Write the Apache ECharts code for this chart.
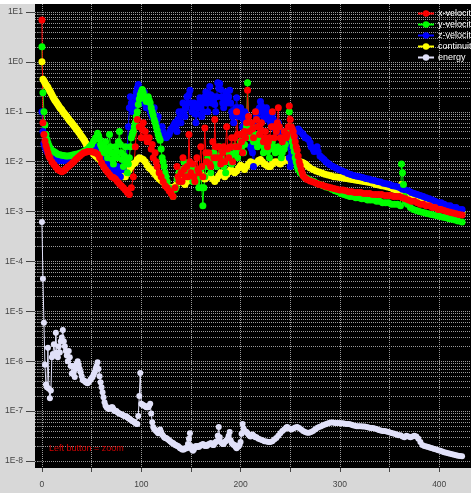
<!DOCTYPE html>
<html>
<head>
<meta charset="utf-8">
<script src="https://cdn.jsdelivr.net/npm/echarts@6/dist/echarts.min.js"></script>
<style>
  html, body { margin: 0; padding: 0; background: #d8d8d8; }
  #chart { width: 471px; height: 493px; }
</style>
</head>
<body>
<div id="chart"></div>
<script>
  // residuals, [iteration, value]
  var xVelocity = [[0,6.9],[1,0.06],[2,0.035],[3,0.026],[4,0.021],[5,0.018],[6,0.015],[7,0.013],[8,0.012],[10,0.010],[12,0.0088],[14,0.0078],[16,0.0070],[18,0.0066],[20,0.0063],[22,0.0066],[24,0.0072],[26,0.0078],[28,0.0085],[30,0.0092],[32,0.0100],[34,0.011],[36,0.012],[38,0.013],[40,0.014],[42,0.015],[44,0.0155],[46,0.016],[48,0.016],[50,0.016],[52,0.0155],[54,0.015],[56,0.014],[58,0.012],[60,0.0095],[62,0.008],[64,0.007],[66,0.0062],[68,0.0055],[70,0.005],[72,0.0048],[74,0.0045],[76,0.004],[78,0.0036],[80,0.0033],[82,0.003],[84,0.0027],[86,0.0024],[88,0.0022],[90,0.003],[92,0.005],[94,0.02],[96,0.07],[98,0.05],[100,0.03],[101,0.045],[102,0.06],[104,0.04],[105,0.03],[106,0.025],[108,0.03],[110,0.018],[111,0.022],[112,0.012],[114,0.015],[115,0.01],[116,0.008],[118,0.006],[120,0.005],[122,0.004],[124,0.0033],[126,0.003],[128,0.0026],[130,0.0023],[132,0.002],[134,0.003],[136,0.008],[137,0.005],[138,0.004],[140,0.006],[141,0.004],[142,0.012],[143,0.007],[144,0.005],[146,0.008],[147,0.005],[148,0.035],[149,0.01],[150,0.006],[152,0.009],[153,0.005],[154,0.004],[156,0.012],[157,0.007],[158,0.006],[160,0.02],[161,0.008],[162,0.005],[164,0.047],[165,0.015],[166,0.01],[168,0.015],[169,0.009],[170,0.008],[172,0.025],[173,0.012],[174,0.07],[175,0.02],[176,0.012],[178,0.02],[179,0.012],[180,0.009],[182,0.015],[183,0.02],[184,0.01],[186,0.05],[187,0.018],[188,0.012],[190,0.02],[191,0.03],[192,0.01],[194,0.03],[195,0.02],[196,0.1],[197,0.035],[198,0.02],[200,0.035],[201,0.025],[202,0.015],[204,0.04],[205,0.03],[206,0.06],[207,0.27],[208,0.08],[209,0.04],[211,0.06],[212,0.045],[213,0.03],[215,0.1],[216,0.07],[217,0.05],[219,0.035],[220,0.045],[221,0.06],[223,0.025],[224,0.03],[225,0.04],[227,0.02],[228,0.025],[229,0.03],[231,0.05],[232,0.1],[233,0.05],[234,0.03],[236,0.04],[237,0.06],[238,0.12],[239,0.05],[240,0.03],[242,0.025],[243,0.03],[244,0.04],[246,0.03],[247,0.035],[248,0.05],[249,0.13],[250,0.07],[251,0.05],[252,0.045],[253,0.04],[254,0.032],[255,0.025],[256,0.02],[257,0.017],[258,0.013],[259,0.01],[260,0.0085],[261,0.007],[262,0.006],[263,0.0052],[265,0.0047],[267,0.0044],[270,0.0041],[273,0.0039],[276,0.0037],[279,0.0035],[282,0.0034],[285,0.0032],[288,0.0031],[291,0.003],[294,0.0029],[297,0.0028],[300,0.0027],[303,0.0027],[306,0.0026],[309,0.0025],[312,0.0025],[315,0.0024],[318,0.0024],[321,0.0024],[324,0.0023],[327,0.0023],[330,0.0023],[333,0.0022],[336,0.0022],[339,0.0022],[342,0.0022],[345,0.0021],[348,0.0021],[351,0.0021],[354,0.002],[357,0.002],[360,0.002],[363,0.0019],[366,0.0018],[369,0.0017],[372,0.0016],[375,0.0016],[378,0.0015],[381,0.0014],[384,0.0014],[387,0.0013],[390,0.0013],[393,0.0012],[396,0.0012],[399,0.0011],[402,0.0011],[405,0.00105],[408,0.001],[411,0.00097],[414,0.00093],[417,0.0009],[420,0.00087],[423,0.00085]];

  var yVelocity = [[0,2],[1,0.24],[2,0.1],[3,0.055],[4,0.035],[5,0.028],[6,0.024],[7,0.021],[8,0.019],[10,0.017],[12,0.016],[14,0.015],[16,0.014],[18,0.0137],[20,0.0135],[22,0.0133],[24,0.013],[26,0.013],[28,0.0132],[30,0.0135],[32,0.0137],[34,0.014],[36,0.0143],[38,0.0147],[40,0.015],[42,0.016],[44,0.017],[46,0.018],[48,0.02],[50,0.022],[52,0.026],[54,0.03],[56,0.037],[57,0.033],[58,0.028],[59,0.022],[60,0.02],[61,0.017],[62,0.015],[63,0.02],[64,0.025],[65,0.016],[66,0.012],[67,0.018],[68,0.035],[69,0.02],[70,0.015],[71,0.011],[72,0.009],[73,0.014],[74,0.02],[75,0.016],[76,0.012],[77,0.025],[78,0.04],[79,0.022],[80,0.015],[81,0.011],[82,0.008],[83,0.013],[84,0.02],[85,0.01],[86,0.006],[87,0.009],[88,0.012],[89,0.02],[90,0.03],[91,0.035],[92,0.04],[93,0.05],[94,0.06],[95,0.08],[96,0.1],[97,0.14],[98,0.18],[99,0.22],[100,0.25],[101,0.28],[102,0.24],[103,0.2],[104,0.18],[105,0.16],[106,0.18],[107,0.2],[108,0.17],[109,0.15],[110,0.12],[111,0.1],[112,0.085],[113,0.07],[114,0.06],[115,0.05],[116,0.042],[117,0.035],[118,0.03],[119,0.027],[120,0.018],[121,0.012],[122,0.01],[123,0.008],[124,0.006],[125,0.005],[126,0.004],[128,0.003],[130,0.0025],[132,0.002],[134,0.0028],[135,0.003],[136,0.0045],[138,0.006],[139,0.004],[140,0.004],[141,0.007],[143,0.01],[144,0.006],[146,0.005],[147,0.007],[149,0.008],[150,0.005],[152,0.004],[153,0.007],[155,0.006],[156,0.004],[158,0.003],[159,0.005],[160,0.007],[161,0.003],[162,0.0013],[163,0.003],[164,0.005],[165,0.008],[167,0.012],[168,0.008],[170,0.006],[171,0.01],[173,0.015],[174,0.01],[176,0.008],[177,0.012],[179,0.02],[180,0.013],[182,0.01],[183,0.008],[185,0.006],[186,0.01],[188,0.015],[189,0.012],[191,0.009],[192,0.014],[194,0.02],[195,0.015],[197,0.012],[198,0.018],[200,0.025],[201,0.02],[203,0.015],[204,0.022],[205,0.03],[206,0.05],[207,0.38],[208,0.06],[209,0.03],[210,0.04],[211,0.05],[212,0.035],[213,0.025],[214,0.03],[215,0.035],[216,0.028],[217,0.02],[218,0.025],[220,0.03],[221,0.022],[223,0.015],[224,0.018],[226,0.02],[227,0.016],[229,0.012],[230,0.018],[232,0.025],[233,0.02],[235,0.015],[236,0.018],[238,0.02],[239,0.016],[241,0.012],[242,0.015],[244,0.018],[245,0.022],[247,0.03],[248,0.04],[249,0.1],[250,0.05],[251,0.03],[252,0.025],[253,0.02],[254,0.016],[255,0.012],[256,0.01],[257,0.008],[258,0.007],[260,0.006],[262,0.0055],[264,0.005],[266,0.0047],[268,0.0045],[271,0.0042],[274,0.004],[277,0.0037],[280,0.0035],[283,0.0033],[286,0.0031],[289,0.003],[292,0.0028],[295,0.0026],[298,0.0025],[301,0.0023],[304,0.0022],[307,0.0021],[310,0.002],[313,0.002],[316,0.0019],[319,0.0019],[322,0.0018],[325,0.0018],[328,0.0017],[331,0.0017],[334,0.0017],[337,0.0016],[340,0.0016],[343,0.0015],[346,0.0015],[349,0.0015],[352,0.0014],[355,0.0014],[358,0.0014],[361,0.0013],[362,0.009],[363,0.006],[364,0.0035],[365,0.002],[366,0.0016],[368,0.0014],[371,0.0012],[374,0.0011],[377,0.00105],[380,0.001],[383,0.00097],[386,0.00094],[389,0.0009],[392,0.00087],[395,0.00085],[398,0.00082],[401,0.0008],[404,0.00077],[407,0.00075],[410,0.00072],[413,0.0007],[416,0.00068],[419,0.00065],[423,0.00062]];

  var zVelocity = [[0,0.1],[1,0.04],[2,0.023],[3,0.02],[4,0.018],[5,0.016],[6,0.015],[8,0.013],[10,0.012],[12,0.0115],[14,0.011],[16,0.0108],[18,0.0105],[20,0.0105],[22,0.0106],[24,0.0108],[26,0.011],[28,0.0113],[30,0.0117],[32,0.012],[34,0.0125],[36,0.013],[38,0.014],[40,0.015],[42,0.0155],[44,0.016],[46,0.017],[48,0.0175],[50,0.018],[52,0.019],[54,0.02],[56,0.02],[58,0.018],[59,0.015],[61,0.012],[62,0.014],[64,0.01],[65,0.012],[67,0.008],[68,0.01],[70,0.009],[71,0.007],[73,0.006],[74,0.008],[76,0.008],[77,0.006],[79,0.005],[80,0.007],[82,0.007],[83,0.009],[85,0.01],[86,0.02],[87,0.05],[88,0.12],[89,0.2],[90,0.15],[91,0.1],[92,0.12],[93,0.15],[94,0.2],[95,0.25],[96,0.3],[97,0.35],[98,0.28],[99,0.2],[100,0.17],[101,0.15],[102,0.2],[103,0.25],[104,0.18],[105,0.12],[106,0.15],[107,0.18],[108,0.13],[109,0.1],[110,0.09],[111,0.08],[112,0.1],[113,0.12],[114,0.08],[115,0.06],[116,0.07],[117,0.08],[118,0.05],[119,0.04],[120,0.045],[121,0.05],[122,0.04],[123,0.035],[125,0.03],[126,0.032],[128,0.035],[129,0.04],[130,0.045],[132,0.05],[133,0.055],[134,0.06],[135,0.05],[136,0.04],[137,0.07],[138,0.1],[139,0.08],[140,0.06],[141,0.1],[142,0.15],[143,0.1],[144,0.08],[145,0.12],[146,0.2],[147,0.15],[148,0.22],[149,0.27],[150,0.15],[151,0.1],[152,0.12],[153,0.15],[154,0.09],[155,0.06],[156,0.09],[157,0.12],[158,0.15],[159,0.19],[160,0.12],[161,0.08],[162,0.1],[163,0.15],[164,0.2],[165,0.25],[166,0.15],[167,0.1],[168,0.2],[169,0.32],[170,0.22],[171,0.15],[172,0.17],[173,0.2],[174,0.14],[175,0.1],[176,0.2],[177,0.38],[178,0.3],[179,0.37],[180,0.28],[181,0.2],[182,0.15],[183,0.12],[184,0.18],[185,0.25],[186,0.2],[187,0.15],[188,0.2],[189,0.27],[190,0.15],[191,0.1],[192,0.08],[193,0.06],[194,0.09],[195,0.12],[196,0.19],[197,0.12],[198,0.08],[199,0.1],[200,0.12],[201,0.08],[202,0.05],[203,0.07],[204,0.1],[205,0.09],[206,0.08],[207,0.06],[208,0.04],[209,0.03],[210,0.02],[211,0.018],[212,0.015],[213,0.008],[214,0.02],[215,0.05],[216,0.08],[217,0.1],[218,0.11],[219,0.12],[220,0.16],[221,0.13],[222,0.1],[223,0.08],[224,0.07],[225,0.09],[226,0.12],[227,0.1],[228,0.08],[229,0.07],[230,0.06],[231,0.07],[232,0.09],[233,0.07],[234,0.05],[235,0.045],[236,0.04],[237,0.05],[238,0.06],[239,0.04],[240,0.03],[241,0.035],[242,0.04],[243,0.03],[244,0.025],[245,0.028],[246,0.03],[247,0.025],[248,0.02],[249,0.012],[250,0.008],[251,0.01],[252,0.015],[253,0.02],[254,0.025],[255,0.03],[256,0.04],[257,0.043],[258,0.045],[259,0.042],[260,0.04],[262,0.037],[263,0.035],[265,0.03],[266,0.03],[268,0.028],[270,0.024],[271,0.02],[273,0.018],[274,0.016],[276,0.018],[277,0.02],[278,0.016],[280,0.013],[282,0.012],[284,0.011],[286,0.01],[288,0.0093],[290,0.0087],[293,0.008],[296,0.0075],[299,0.007],[302,0.0066],[305,0.0062],[308,0.0058],[311,0.0055],[314,0.0053],[317,0.0051],[320,0.005],[323,0.0048],[326,0.0046],[329,0.0045],[332,0.0043],[335,0.0042],[338,0.004],[341,0.0039],[344,0.0037],[347,0.0036],[350,0.0035],[353,0.0033],[356,0.0032],[359,0.0031],[361,0.003],[363,0.0028],[366,0.0027],[369,0.0026],[372,0.0024],[375,0.0023],[378,0.0022],[381,0.0021],[384,0.002],[387,0.0019],[390,0.0018],[393,0.0017],[396,0.0016],[399,0.0015],[402,0.0015],[405,0.0014],[408,0.0013],[411,0.0013],[414,0.0012],[417,0.0012],[420,0.0011],[423,0.0011]];

  var continuity = [[0,1],[1,0.45],[2,0.42],[3,0.38],[4,0.35],[5,0.33],[6,0.31],[7,0.28],[8,0.26],[9,0.24],[10,0.22],[11,0.2],[12,0.185],[13,0.17],[14,0.16],[15,0.15],[16,0.14],[17,0.13],[18,0.12],[19,0.115],[20,0.11],[21,0.1],[22,0.095],[23,0.09],[24,0.085],[25,0.08],[26,0.075],[27,0.07],[28,0.066],[29,0.063],[30,0.06],[31,0.056],[32,0.053],[33,0.05],[34,0.047],[35,0.044],[36,0.042],[37,0.039],[38,0.037],[39,0.034],[40,0.032],[41,0.03],[42,0.028],[43,0.026],[44,0.024],[45,0.022],[46,0.021],[48,0.018],[50,0.016],[52,0.014],[54,0.013],[56,0.012],[58,0.011],[60,0.01],[62,0.009],[64,0.008],[66,0.0075],[68,0.007],[70,0.0065],[72,0.006],[74,0.0058],[76,0.0075],[78,0.006],[80,0.005],[82,0.005],[84,0.005],[86,0.006],[88,0.007],[90,0.008],[92,0.009],[94,0.0095],[96,0.011],[98,0.012],[100,0.0115],[102,0.011],[104,0.01],[106,0.0085],[108,0.0075],[110,0.007],[112,0.0062],[114,0.0055],[116,0.005],[118,0.0045],[120,0.0042],[122,0.0039],[124,0.0036],[126,0.0033],[128,0.0031],[130,0.003],[132,0.003],[134,0.0032],[136,0.0036],[138,0.004],[140,0.0042],[142,0.0038],[144,0.0035],[146,0.004],[148,0.0046],[150,0.005],[152,0.0044],[154,0.004],[156,0.0045],[158,0.0052],[160,0.006],[162,0.005],[164,0.0045],[166,0.0048],[168,0.0052],[170,0.005],[172,0.0045],[174,0.004],[176,0.0045],[178,0.0052],[180,0.006],[182,0.0055],[184,0.005],[186,0.0055],[188,0.0062],[190,0.007],[192,0.0065],[194,0.006],[196,0.0065],[198,0.0075],[200,0.0085],[202,0.008],[204,0.007],[206,0.008],[208,0.009],[210,0.01],[212,0.0095],[214,0.009],[216,0.0095],[218,0.0105],[220,0.011],[222,0.01],[224,0.009],[226,0.0085],[228,0.008],[230,0.008],[232,0.009],[234,0.0098],[236,0.01],[238,0.0095],[240,0.009],[242,0.0098],[244,0.0105],[246,0.011],[248,0.0105],[250,0.01],[252,0.0105],[254,0.011],[256,0.0108],[258,0.0102],[260,0.01],[262,0.0097],[264,0.0093],[266,0.0088],[268,0.008],[270,0.0075],[273,0.007],[276,0.0065],[279,0.0062],[282,0.0059],[285,0.0056],[288,0.0054],[291,0.0052],[294,0.005],[297,0.0049],[300,0.0048],[303,0.0047],[306,0.0046],[309,0.0045],[312,0.0044],[315,0.0043],[318,0.0042],[321,0.0041],[324,0.004],[327,0.0039],[330,0.0038],[333,0.0037],[336,0.0035],[339,0.0034],[342,0.0033],[345,0.0032],[348,0.0031],[351,0.003],[354,0.0028],[357,0.0027],[360,0.0026],[361,0.0025],[362,0.0035],[363,0.003],[364,0.0028],[366,0.0025],[369,0.0023],[372,0.0021],[375,0.002],[378,0.0019],[381,0.0018],[384,0.0017],[387,0.0016],[390,0.0015],[393,0.0014],[396,0.0014],[399,0.0013],[402,0.0013],[405,0.0012],[408,0.0011],[411,0.0011],[414,0.00105],[417,0.001],[420,0.00097],[423,0.00095]];

  var energy = [[0,6.2e-4],[1,4.5e-5],[2,5.9e-6],[3,8.5e-7],[4,3.4e-7],[5,3e-7],[6,1.86e-6],[7,2.8e-7],[8,1.8e-7],[9,2.6e-7],[10,1.2e-6],[11,1.4e-6],[12,2.2e-6],[13,1.3e-6],[14,3.7e-6],[15,1.5e-6],[16,1.2e-6],[17,2e-6],[18,1.5e-6],[19,2.5e-6],[20,3e-6],[21,4.2e-6],[22,2.5e-6],[23,2e-6],[24,1.6e-6],[25,1.3e-6],[26,1e-6],[27,1.6e-6],[28,1.2e-6],[29,8e-7],[30,5.7e-7],[31,8e-7],[32,6e-7],[33,4.8e-7],[34,7e-7],[35,9e-7],[36,1e-6],[37,8.5e-7],[38,7e-7],[39,6e-7],[40,5e-7],[41,4.2e-7],[42,4.1e-7],[43,4e-7],[44,3.8e-7],[45,3.7e-7],[46,3.6e-7],[47,3.8e-7],[48,4e-7],[49,4.3e-7],[50,4.6e-7],[51,4.8e-7],[52,5.4e-7],[53,6e-7],[54,7e-7],[55,8e-7],[56,9.5e-7],[57,7e-7],[58,5e-7],[59,3.8e-7],[60,3e-7],[61,2.4e-7],[62,1.9e-7],[63,1.5e-7],[64,1.3e-7],[65,1.2e-7],[66,1.15e-7],[67,1.1e-7],[68,1.1e-7],[69,1.15e-7],[70,1.2e-7],[71,1.2e-7],[72,1.1e-7],[73,1e-7],[74,1e-7],[75,1e-7],[76,9.5e-8],[77,9.2e-8],[78,9e-8],[79,8.8e-8],[80,8.6e-8],[81,8.5e-8],[82,8.2e-8],[83,8e-8],[84,7.9e-8],[85,7.8e-8],[86,7.5e-8],[87,7.2e-8],[88,7e-8],[89,6.8e-8],[90,6.5e-8],[91,6.3e-8],[92,6.2e-8],[93,6e-8],[94,5.8e-8],[95,5.6e-8],[96,5.5e-8],[97,8e-8],[98,2e-7],[99,5.8e-7],[100,1.4e-7],[101,1.35e-7],[102,1.3e-7],[103,1.3e-7],[104,1.25e-7],[105,1.2e-7],[106,1.2e-7],[107,1.2e-7],[108,1.3e-7],[109,1.4e-7],[110,9e-8],[111,6e-8],[112,4.8e-8],[113,4.4e-8],[114,4.2e-8],[115,4e-8],[116,3.8e-8],[117,3.6e-8],[118,4e-8],[119,4.3e-8],[120,3.8e-8],[121,3.4e-8],[122,3.2e-8],[123,3e-8],[124,2.9e-8],[125,2.9e-8],[126,2.8e-8],[127,2.7e-8],[128,2.6e-8],[129,2.5e-8],[130,2.4e-8],[131,2.3e-8],[132,2.3e-8],[133,2.2e-8],[134,2.1e-8],[135,2.1e-8],[136,2e-8],[137,2e-8],[138,1.9e-8],[139,1.8e-8],[140,1.8e-8],[141,1.7e-8],[142,1.7e-8],[143,1.7e-8],[144,1.8e-8],[145,1.8e-8],[146,1.8e-8],[147,2.2e-8],[148,2.8e-8],[149,3.6e-8],[150,2e-8],[151,1.7e-8],[152,1.6e-8],[153,1.7e-8],[154,1.9e-8],[155,2e-8],[156,1.9e-8],[157,2e-8],[158,1.9e-8],[159,2e-8],[160,2.1e-8],[161,2.1e-8],[162,2.2e-8],[163,2.1e-8],[164,2e-8],[165,2.1e-8],[166,2e-8],[167,2.1e-8],[168,2.2e-8],[169,2.2e-8],[170,2.3e-8],[171,2.2e-8],[172,2.1e-8],[173,2.1e-8],[174,2.3e-8],[175,2.4e-8],[176,2.5e-8],[177,3.2e-8],[178,4.8e-8],[179,3e-8],[180,2.4e-8],[181,2.3e-8],[182,2.2e-8],[183,2.2e-8],[184,2.4e-8],[185,2.5e-8],[186,2.6e-8],[187,2.8e-8],[188,3.2e-8],[189,3.8e-8],[190,2.6e-8],[191,2.3e-8],[192,2.2e-8],[193,2.1e-8],[194,2.1e-8],[195,1.9e-8],[196,1.8e-8],[197,1.9e-8],[198,2e-8],[199,2.1e-8],[200,2.4e-8],[201,3.5e-8],[202,5.5e-8],[203,4.5e-8],[204,4e-8],[205,3.9e-8],[206,3.8e-8],[207,3.6e-8],[208,3.4e-8],[209,3.2e-8],[210,3.1e-8],[211,3.3e-8],[212,3.4e-8],[213,3.2e-8],[214,3.1e-8],[215,3e-8],[216,3e-8],[218,2.8e-8],[220,2.7e-8],[222,2.6e-8],[224,2.5e-8],[226,2.45e-8],[228,2.4e-8],[230,2.4e-8],[232,2.5e-8],[234,2.7e-8],[236,2.9e-8],[238,3.2e-8],[240,3.6e-8],[242,4e-8],[244,4.3e-8],[246,4.7e-8],[247,4.8e-8],[249,4.5e-8],[251,4.3e-8],[253,4.5e-8],[255,4.7e-8],[257,4.8e-8],[259,4.6e-8],[261,4.3e-8],[263,4e-8],[265,3.8e-8],[267,3.7e-8],[269,3.7e-8],[271,3.8e-8],[273,4e-8],[275,4.3e-8],[277,4.6e-8],[279,4.8e-8],[281,5e-8],[283,5.2e-8],[285,5.4e-8],[287,5.6e-8],[289,5.8e-8],[291,5.9e-8],[293,5.9e-8],[295,5.8e-8],[297,5.8e-8],[299,5.8e-8],[301,5.7e-8],[303,5.7e-8],[305,5.6e-8],[307,5.5e-8],[309,5.5e-8],[311,5.4e-8],[313,5.2e-8],[315,5.1e-8],[317,5e-8],[319,5e-8],[321,5e-8],[323,4.9e-8],[325,4.9e-8],[327,4.8e-8],[329,4.7e-8],[331,4.6e-8],[333,4.6e-8],[335,4.5e-8],[337,4.4e-8],[339,4.2e-8],[341,4.1e-8],[343,4e-8],[345,4e-8],[347,3.9e-8],[349,3.8e-8],[351,3.7e-8],[353,3.6e-8],[355,3.5e-8],[357,3.4e-8],[359,3.3e-8],[361,3.3e-8],[363,3.1e-8],[365,3e-8],[367,3.2e-8],[369,3.1e-8],[371,3e-8],[373,3.1e-8],[375,3.2e-8],[377,3.1e-8],[379,2.8e-8],[381,2.4e-8],[383,2.1e-8],[385,2e-8],[387,1.95e-8],[389,1.9e-8],[391,1.85e-8],[393,1.8e-8],[395,1.75e-8],[397,1.7e-8],[399,1.65e-8],[401,1.6e-8],[403,1.55e-8],[405,1.5e-8],[407,1.47e-8],[409,1.43e-8],[411,1.4e-8],[413,1.37e-8],[415,1.33e-8],[417,1.3e-8],[419,1.28e-8],[421,1.26e-8],[423,1.25e-8]];

  var xTickValues = [0, 50, 100, 150, 200, 250, 300, 350, 400];
  var xLabelValues = [0, 100, 200, 300, 400];
  var yDecades = [1e-8, 1e-7, 1e-6, 1e-5, 1e-4, 1e-3, 1e-2, 1e-1, 1, 10];

  // minor log positions (1..9 of every decade) for the dotted grid
  var yMinor = [];
  yDecades.forEach(function (d) {
    for (var m = 1; m <= 9; m++) {
      var v = parseFloat((d * m).toPrecision(3));
      if (v < 14) yMinor.push(v);
    }
  });

  var chart = echarts.init(document.getElementById('chart'));
  var font = 'Liberation Sans, Arial, sans-serif';
  var yMin = 7.24e-9, yMax = 14.45;

  function lineSeries(name, data, color, size) {
    return {
      name: name, type: 'line', data: data,
      symbol: 'circle', symbolSize: size, showAllSymbol: true,
      itemStyle: { color: color },
      lineStyle: { color: color, width: 1 },
      emphasis: { disabled: true }
    };
  }

  chart.setOption({
    animation: false,
    backgroundColor: '#d8d8d8',
    grid: { left: 35, right: 0, top: 4, bottom: 25, show: true, backgroundColor: '#000', borderWidth: 0 },
    xAxis: {
      type: 'value', min: -7, max: 432,
      axisLine: { show: false },
      axisTick: { show: true, length: 4, customValues: xTickValues, lineStyle: { color: '#444' } },
      axisLabel: { customValues: xLabelValues, color: '#444', fontSize: 8.5, fontFamily: font, margin: 12 },
      splitLine: { show: true, lineStyle: { color: '#9a9a9a', type: [1, 1], width: 1 } }
    },
    yAxis: [{
      type: 'log', min: yMin, max: yMax, position: 'left',
      axisLine: { show: false },
      axisTick: { show: true, length: 4, customValues: yMinor, lineStyle: { color: '#555' } },
      axisLabel: { show: false },
      splitLine: { show: true, lineStyle: { color: '#9a9a9a', type: [1, 1], width: 1 } }
    }, {
      type: 'log', min: yMin, max: yMax, position: 'left',
      axisLine: { show: false },
      axisTick: { show: true, length: 9, customValues: yDecades, lineStyle: { color: '#444' } },
      axisLabel: {
        customValues: yDecades, color: '#444', fontSize: 8.5, fontFamily: font, margin: 12,
        formatter: function (v) { return '1E' + Math.round(Math.log10(v)); }
      },
      splitLine: { show: false }
    }],
    legend: {
      orient: 'vertical', left: 412, top: 4, itemGap: 2, itemWidth: 16, itemHeight: 8,
      data: ['x-velocity', 'y-velocity', 'z-velocity', 'continuity', 'energy'],
      textStyle: { color: '#fff', fontSize: 9, fontFamily: font, padding: [0, 0, 0, -1] }
    },
    graphic: [
      { type: 'rect', left: 0, top: 0, shape: { width: 471, height: 4 }, style: { fill: '#fff' }, silent: true },
      { type: 'text', left: 49, top: 444, z: 100, silent: true,
        style: { text: 'Left button = zoom', fill: '#d40000', font: '9px Liberation Sans, Arial, sans-serif' } }
    ],
    series: [
      lineSeries('energy', energy, '#e0e0f8', 6),
      lineSeries('continuity', continuity, '#ffff00', 7),
      lineSeries('z-velocity', zVelocity, '#0000ff', 7),
      lineSeries('y-velocity', yVelocity, '#00ff00', 7),
      lineSeries('x-velocity', xVelocity, '#ff0000', 7)
    ]
  });
</script>
</body>
</html>
